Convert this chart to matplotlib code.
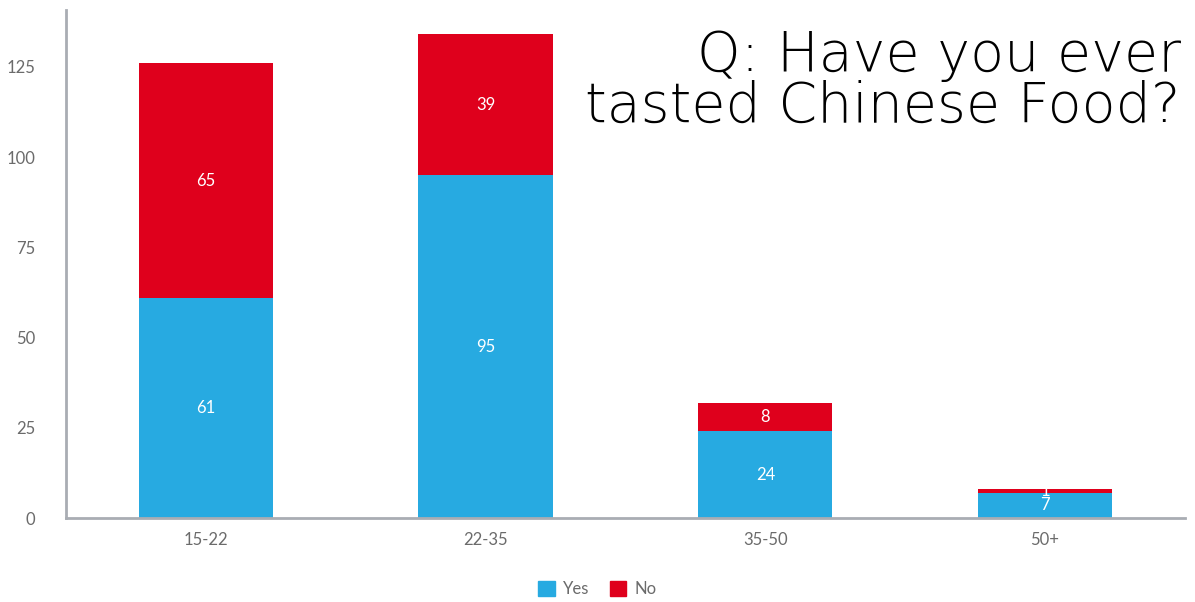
import numpy as np
import matplotlib.pyplot as plt
from matplotlib.patches import Patch

categories = ['15-22', '22-35', '35-50', '50+']
yes_vals = [61, 95, 24, 7]
no_vals = [65, 39, 8, 1]
yticks = [0, 25, 50, 75, 100, 125]

BLUE = '#27aae1'
RED = '#df001c'
GREY = '#a9adb3'
TXT = '#6b6b6b'

plt.rcParams['font.family'] = ['Lato', 'DejaVu Sans']

fig = plt.figure(figsize=(11.95, 6.02), dpi=100)
ax = fig.add_axes([0.0552, 0.1395, 0.9364, 0.844])

x = np.arange(len(categories))
w = 0.48
ax.bar(x, yes_vals, w, color=BLUE, label='Yes')
ax.bar(x, no_vals, w, bottom=yes_vals, color=RED, label='No')

# value labels inside each segment
for i in range(len(categories)):
    ax.text(x[i], yes_vals[i] / 2, str(yes_vals[i]), ha='center', va='center',
            color='white', fontsize=12)
    ax.text(x[i], yes_vals[i] + no_vals[i] / 2, str(no_vals[i]), ha='center',
            va='center', color='white', fontsize=12)

ax.set_xlim(-0.5, 3.5)
ax.set_ylim(0, 140.8)
ax.set_xticks(x)
ax.set_xticklabels(categories)
ax.set_yticks(yticks)
ax.tick_params(axis='both', length=0, labelsize=12, colors=TXT)
ax.tick_params(axis='y', pad=22)
ax.tick_params(axis='x', pad=10)

for s in ['top', 'right']:
    ax.spines[s].set_visible(False)
for s in ['left', 'bottom']:
    ax.spines[s].set_color(GREY)
    ax.spines[s].set_linewidth(2)

fig.text(0.988, 0.864, 'Q: Have you ever\ntasted Chinese Food?', ha='right',
         va='center', fontsize=40, color='black', fontweight='light',
         family=['DejaVu Sans'], linespacing=0.92)

handles = [Patch(color=BLUE), Patch(color=RED)]
fig.legend(handles, ['Yes', 'No'], loc='center', bbox_to_anchor=(0.5, 0.022),
           ncol=2, frameon=False, fontsize=12, handlelength=1.0, handleheight=1.0,
           handletextpad=0.5, columnspacing=1.2, labelcolor=TXT)

fig.savefig('out.png', dpi=100)
